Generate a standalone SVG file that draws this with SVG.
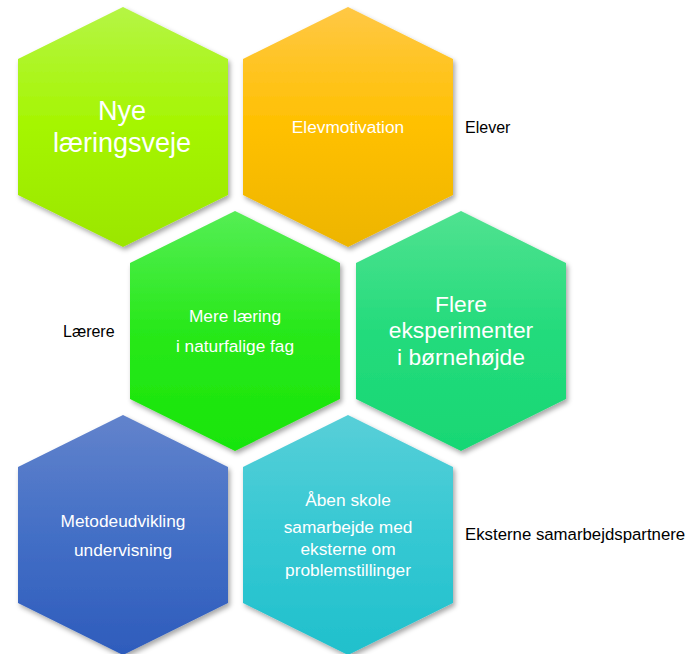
<svg xmlns="http://www.w3.org/2000/svg" width="691" height="654" viewBox="0 0 691 654">
<defs>
<filter id="sh" x="-10%" y="-10%" width="125%" height="125%">
<feDropShadow dx="2" dy="3" stdDeviation="2.5" flood-color="#000" flood-opacity="0.35"/>
</filter>
<linearGradient id="g1" x1="0" y1="0" x2="0" y2="1"><stop offset="0" stop-color="#B5F545"/><stop offset="0.5" stop-color="#A5F500"/><stop offset="1" stop-color="#9BE600"/></linearGradient>
<linearGradient id="g2" x1="0" y1="0" x2="0" y2="1"><stop offset="0" stop-color="#FFC845"/><stop offset="0.5" stop-color="#FFC000"/><stop offset="1" stop-color="#EDB500"/></linearGradient>
<linearGradient id="g3" x1="0" y1="0" x2="0" y2="1"><stop offset="0" stop-color="#55EE55"/><stop offset="0.5" stop-color="#28E81A"/><stop offset="1" stop-color="#18E508"/></linearGradient>
<linearGradient id="g4" x1="0" y1="0" x2="0" y2="1"><stop offset="0" stop-color="#50E290"/><stop offset="0.5" stop-color="#24DB7C"/><stop offset="1" stop-color="#18D774"/></linearGradient>
<linearGradient id="g5" x1="0" y1="0" x2="0" y2="1"><stop offset="0" stop-color="#6283CC"/><stop offset="0.5" stop-color="#436FC6"/><stop offset="1" stop-color="#2E5CBC"/></linearGradient>
<linearGradient id="g6" x1="0" y1="0" x2="0" y2="1"><stop offset="0" stop-color="#58CFD8"/><stop offset="0.5" stop-color="#35C8D3"/><stop offset="1" stop-color="#20C0CC"/></linearGradient>
</defs>
<style>
.hex{filter:url(#sh);}
.t{font-family:"Liberation Sans",Arial,sans-serif;fill:#fff;text-anchor:middle;font-size:17.3px;}
.lbl{font-family:"Liberation Sans",Arial,sans-serif;fill:#000;font-size:16px;}
</style>
<rect width="691" height="654" fill="#fff"/>
<g id="node-nye">
<polygon class="hex" fill="url(#g1)" points="123,7 228,59 228,195 123,247 18,195 18,59"/>
<text class="t" style="font-size:27px" x="122" y="120">Nye</text>
<text class="t" style="font-size:27px" x="122" y="152">læringsveje</text>
</g>
<g id="node-elevmotivation">
<polygon class="hex" fill="url(#g2)" points="348,7 453,59 453,195 348,247 243,195 243,59"/>
<text class="t" x="348" y="133">Elevmotivation</text>
</g>
<g id="node-mere">
<polygon class="hex" fill="url(#g3)" points="235,211 340,263 340,399 235,451 130,399 130,263"/>
<text class="t" x="235" y="322">Mere læring</text>
<text class="t" x="235" y="352">i naturfalige fag</text>
</g>
<g id="node-flere">
<polygon class="hex" fill="url(#g4)" points="461,211 566,263 566,399 461,451 356,399 356,263"/>
<text class="t" style="font-size:22.8px" x="461" y="312">Flere</text>
<text class="t" style="font-size:22.8px" x="461" y="338">eksperimenter</text>
<text class="t" style="font-size:22.8px" x="461" y="365">i børnehøjde</text>
</g>
<g id="node-metode">
<polygon class="hex" fill="url(#g5)" points="123,415 228,467 228,603 123,655 18,603 18,467"/>
<text class="t" x="123" y="527">Metodeudvikling</text>
<text class="t" x="123" y="556">undervisning</text>
</g>
<g id="node-aaben">
<polygon class="hex" fill="url(#g6)" points="348,415 453,467 453,603 348,655 243,603 243,467"/>
<text class="t" x="348" y="506">Åben skole</text>
<text class="t" x="348" y="533">samarbejde med</text>
<text class="t" x="348" y="555">eksterne om</text>
<text class="t" x="348" y="576">problemstillinger</text>
</g>
<g id="labels">
<text class="lbl" x="465" y="133">Elever</text>
<text class="lbl" x="63" y="337">Lærere</text>
<text class="lbl" x="465" y="540" style="font-size:16.8px">Eksterne samarbejdspartnere</text>
</g>
</svg>
